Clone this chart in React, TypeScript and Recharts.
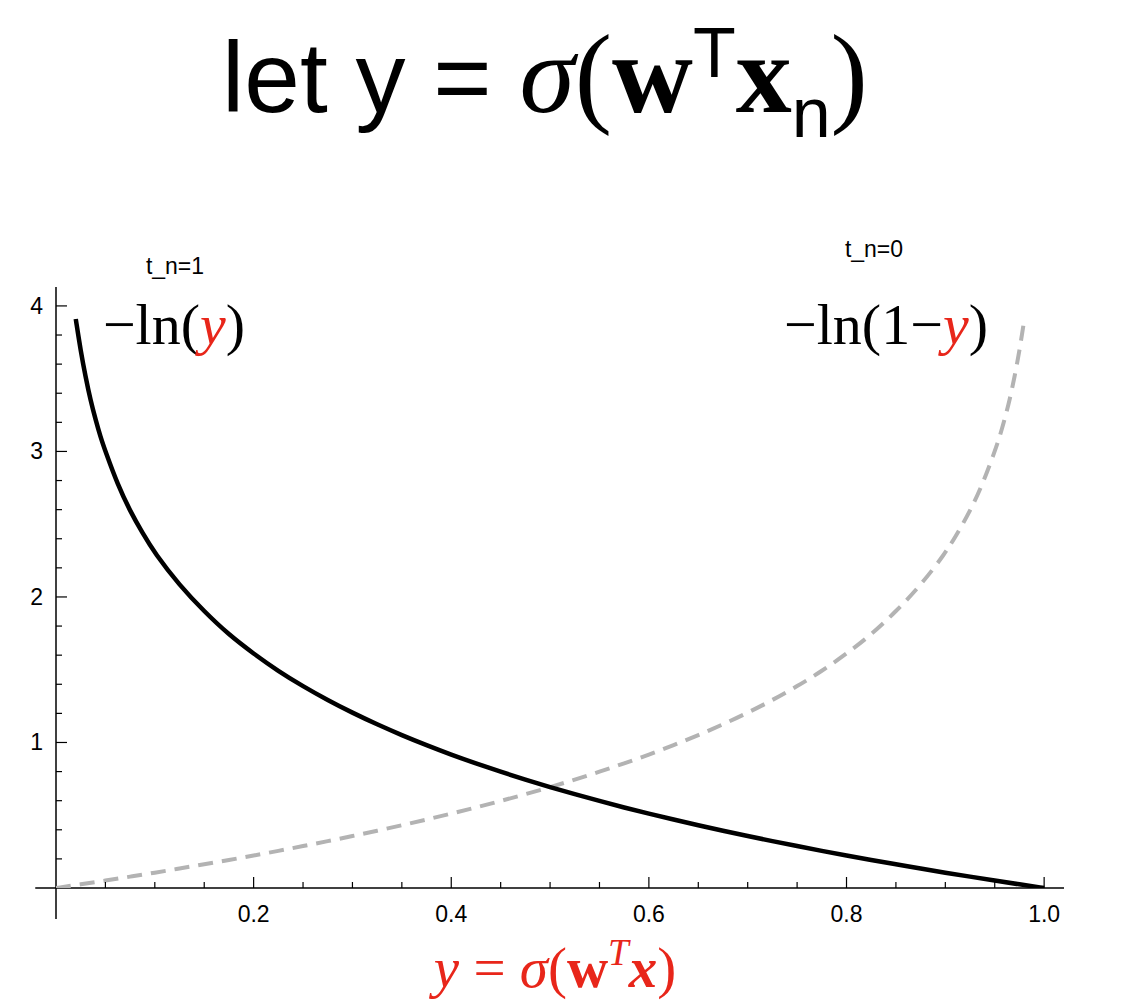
import { LineChart, Line, XAxis, YAxis, ReferenceLine } from "recharts";

// y = sigma(w^T x) on the x axis, cross-entropy terms on the y axis
const lossT1X = [0.02, 0.025, 0.03, 0.035, 0.04, 0.045, 0.05, 0.0625, 0.075, 0.0875, 0.1, 0.125, 0.15, 0.175, 0.2, 0.225, 0.25, 0.275, 0.3, 0.325, 0.35, 0.375, 0.4, 0.425, 0.45, 0.475, 0.5, 0.525, 0.55, 0.575, 0.6, 0.625, 0.65, 0.675, 0.7, 0.725, 0.75, 0.775, 0.8, 0.825, 0.85, 0.875, 0.9, 0.925, 0.95, 0.975, 1.0];
const lossT1Y = [3.91, 3.69, 3.51, 3.35, 3.22, 3.1, 3.0, 2.77, 2.59, 2.44, 2.3, 2.08, 1.9, 1.74, 1.61, 1.49, 1.386, 1.291, 1.204, 1.124, 1.05, 0.981, 0.916, 0.856, 0.799, 0.744, 0.693, 0.644, 0.598, 0.553, 0.511, 0.47, 0.431, 0.393, 0.357, 0.322, 0.288, 0.255, 0.223, 0.192, 0.163, 0.134, 0.105, 0.078, 0.051, 0.025, 0];

const lossT0X = [0, 0.025, 0.05, 0.075, 0.1, 0.125, 0.15, 0.175, 0.2, 0.225, 0.25, 0.275, 0.3, 0.325, 0.35, 0.375, 0.4, 0.425, 0.45, 0.475, 0.5, 0.525, 0.55, 0.575, 0.6, 0.625, 0.65, 0.675, 0.7, 0.725, 0.75, 0.775, 0.8, 0.825, 0.85, 0.875, 0.9, 0.9125, 0.925, 0.9375, 0.95, 0.955, 0.96, 0.965, 0.97, 0.975, 0.98];
const lossT0Y = [0, 0.025, 0.051, 0.078, 0.105, 0.134, 0.163, 0.192, 0.223, 0.255, 0.288, 0.322, 0.357, 0.393, 0.431, 0.47, 0.511, 0.553, 0.598, 0.644, 0.693, 0.744, 0.799, 0.856, 0.916, 0.981, 1.05, 1.124, 1.204, 1.291, 1.386, 1.49, 1.61, 1.74, 1.9, 2.08, 2.3, 2.44, 2.59, 2.77, 3.0, 3.1, 3.22, 3.35, 3.51, 3.69, 3.91];

const xTicks = [0.05, 0.1, 0.15, 0.2, 0.25, 0.3, 0.35, 0.4, 0.45, 0.5, 0.55, 0.6, 0.65, 0.7, 0.75, 0.8, 0.85, 0.9, 0.95, 1.0];
const xMajor = [0.2, 0.4, 0.6, 0.8, 1.0];
const yTicks = [0.2, 0.4, 0.6, 0.8, 1, 1.2, 1.4, 1.6, 1.8, 2, 2.2, 2.4, 2.6, 2.8, 3, 3.2, 3.4, 3.6, 3.8, 4];
const yMajor = [1, 2, 3, 4];

const t1Data = lossT1X.map((x, i) => ({ x, v: lossT1Y[i] }));
const t0Data = lossT0X.map((x, i) => ({ x, v: lossT0Y[i] }));

const RED = "#e8261a";
const SANS = "'Liberation Sans', Arial, Helvetica, sans-serif";
const SERIF = "'Liberation Serif', 'Times New Roman', serif";

const isMajor = (list: number[], v: number) => list.some((m) => Math.abs(m - v) < 1e-6);

function XTick(props: any) {
  const { x, y, payload } = props;
  const major = isMajor(xMajor, payload.value);
  return (
    <g>
      <line x1={x} x2={x} y1={y} y2={y - (major ? 11 : 6)} stroke="#000" strokeWidth={1.2} />
      {major && (
        <text x={x} y={y + 34} textAnchor="middle" fontFamily={SANS} fontSize={23} fill="#000">
          {payload.value.toFixed(1)}
        </text>
      )}
    </g>
  );
}

function YTick(props: any) {
  const { x, y, payload } = props;
  const major = isMajor(yMajor, payload.value);
  return (
    <g>
      <line x1={x} x2={x + (major ? 11 : 6)} y1={y} y2={y} stroke="#000" strokeWidth={1.2} />
      {major && (
        <text x={x - 13} y={y + 8} textAnchor="end" fontFamily={SANS} fontSize={23} fill="#000">
          {payload.value}
        </text>
      )}
    </g>
  );
}

const abs = (left: number, top: number, extra: any = {}) => ({
  position: "absolute" as const,
  left,
  top,
  whiteSpace: "nowrap" as const,
  lineHeight: 1,
  ...extra,
});

export default function App() {
  return (
    <div style={{ position: "relative", width: 1141, height: 1000, background: "#fff" }}>
      <style>{`body{margin:0}`}</style>

      {/* title */}
      <div style={abs(545, 18, { transform: "translateX(-50%)", fontSize: 100, fontFamily: SANS })}>
        <span>let y = </span>
        <span style={{ fontFamily: SERIF, fontStyle: "italic", fontSize: 112 }}>σ</span>
        <span style={{ fontFamily: SERIF, fontSize: 112 }}>(</span>
        <span style={{ fontFamily: SERIF, fontWeight: "bold", fontSize: 112 }}>w</span>
        <sup style={{ fontSize: 70, verticalAlign: "0.5em" }}>T</sup>
        <span style={{ fontFamily: SERIF, fontWeight: "bold", fontSize: 112 }}>x</span>
        <sub style={{ fontSize: 70, verticalAlign: "-0.35em" }}>n</sub>
        <span style={{ fontFamily: SERIF, fontSize: 112 }}>)</span>
      </div>

      <LineChart width={1141} height={1000} margin={{ top: 287, right: 77, bottom: 72, left: 0 }}>
        <XAxis
          type="number"
          dataKey="x"
          domain={[0, 1.0201]}
          ticks={xTicks}
          interval={0}
          height={40}
          tickSize={0}
          tickMargin={0}
          axisLine={false}
          tickLine={false}
          tick={<XTick />}
          allowDataOverflow
        />
        <YAxis
          type="number"
          domain={[0, 4.13]}
          ticks={yTicks}
          interval={0}
          width={56}
          tickSize={0}
          tickMargin={0}
          axisLine={false}
          tickLine={false}
          tick={<YTick />}
          allowDataOverflow
        />
        <ReferenceLine
          segment={[{ x: -0.021, y: 0 }, { x: 1.0201, y: 0 }]}
          stroke="#000"
          strokeWidth={1.5}
          ifOverflow="visible"
        />
        <ReferenceLine
          segment={[{ x: 0, y: -0.213 }, { x: 0, y: 4.13 }]}
          stroke="#000"
          strokeWidth={1.5}
          ifOverflow="visible"
        />
        <Line
          data={t0Data}
          dataKey="v"
          type="basis"
          stroke="#b3b3b3"
          strokeWidth={4}
          strokeDasharray="15 9"
          dot={false}
          isAnimationActive={false}
        />
        <Line
          data={t1Data}
          dataKey="v"
          type="basis"
          stroke="#000"
          strokeWidth={4.5}
          dot={false}
          isAnimationActive={false}
        />
      </LineChart>

      {/* curve labels */}
      <div style={abs(175, 255, { transform: "translateX(-50%)", fontSize: 23, fontFamily: SANS })}>t_n=1</div>
      <div style={abs(174, 296, { transform: "translateX(-50%)", fontSize: 58, fontFamily: SERIF })}>
        −ln(<span style={{ color: RED, fontStyle: "italic" }}>y</span>)
      </div>
      <div style={abs(874, 238, { transform: "translateX(-50%)", fontSize: 23, fontFamily: SANS })}>t_n=0</div>
      <div style={abs(886, 296, { transform: "translateX(-50%)", fontSize: 58, fontFamily: SERIF })}>
        −ln(1−<span style={{ color: RED, fontStyle: "italic" }}>y</span>)
      </div>

      {/* x axis label */}
      <div style={abs(555, 934, { transform: "translateX(-50%)", fontSize: 57, fontFamily: SERIF, color: RED })}>
        <span style={{ fontStyle: "italic" }}>y</span> = <span style={{ fontStyle: "italic" }}>σ</span>(
        <span style={{ fontWeight: "bold" }}>w</span>
        <sup style={{ fontStyle: "italic", fontSize: 37, verticalAlign: "0.6em" }}>T</sup>
        <span style={{ fontWeight: "bold", fontStyle: "italic" }}>x</span>)
      </div>
    </div>
  );
}
